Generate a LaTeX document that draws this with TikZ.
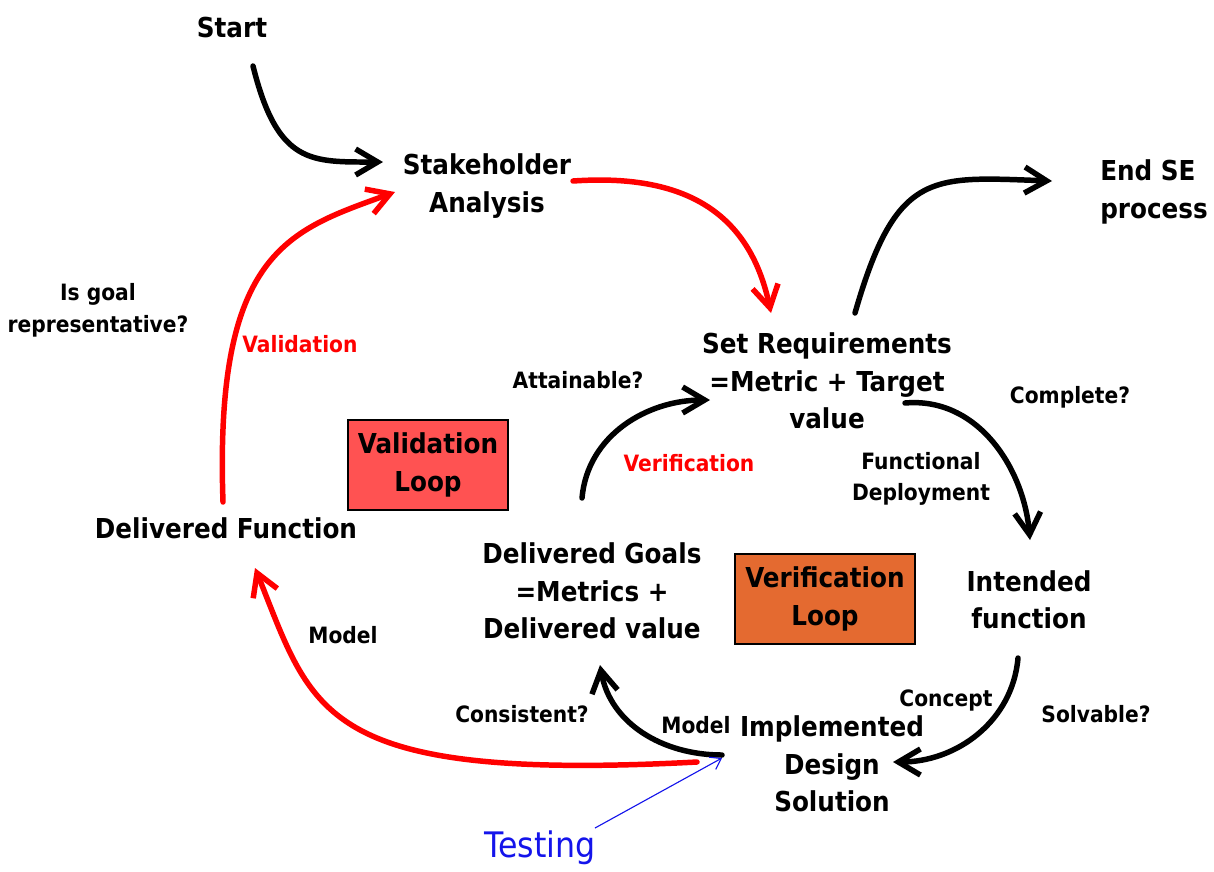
\documentclass[tikz,border=0pt]{standalone}
\usepackage{fontspec}
\setmainfont{DejaVu Sans Condensed}
\usetikzlibrary{arrows.meta,calc}

\definecolor{vred}{RGB}{255,0,0}
\definecolor{valfill}{RGB}{255,82,82}
\definecolor{verfill}{RGB}{228,106,48}
\definecolor{tblue}{RGB}{20,20,235}

\tikzset{
  bigtxt/.style={font=\fontsize{19.5}{26.5}\selectfont\bfseries,align=center,inner sep=0pt},
  qtxt/.style={font=\fontsize{16}{22.5}\selectfont\bfseries,align=center,inner sep=0pt},
  redtxt/.style={qtxt,text=vred},
  loopbox/.style={draw=black,line width=1.2pt,font=\fontsize{19.5}{26.5}\selectfont\bfseries,
    align=center,minimum height=2.25cm},
  blackarr/.style={draw=black,line width=3.9pt,line cap=round,
    -{Straight Barb[length=5.5mm,width=6.5mm]}},
  redarr/.style={blackarr,draw=vred},
  testarr/.style={draw=tblue,line width=0.8pt,-{Straight Barb[length=2.5mm,width=3.5mm]}}
}

\begin{document}
\begin{tikzpicture}[x=0.025cm,y=-0.025cm]
  \useasboundingbox (0,0) rectangle (1214,871);

  % main steps
  \node[bigtxt] (start) at (232,28) {Start};
  \node[bigtxt] (stake) at (487,186) {Stakeholder\\Analysis};
  \node[bigtxt,align=left] (endse) at (1154,192) {End SE\\process};
  \node[bigtxt] (req) at (827,381) {Set Requirements\\=Metric + Target\\value};
  \node[bigtxt] (intend) at (1029,600) {Intended\\function};
  \node[bigtxt] (impl) at (832,764) {Implemented\\Design\\Solution};
  \node[bigtxt] (goals) at (592,591) {Delivered Goals\\=Metrics +\\Delivered value};
  \node[bigtxt] (deliv) at (226,528) {Delivered Function};

  % loops
  \node[loopbox,fill=valfill,minimum width=4cm] (valloop) at (428,465) {Validation\\Loop};
  \node[loopbox,fill=verfill,minimum width=4.5cm] (verloop) at (825,599) {Verification\\Loop};

  % questions and labels
  \node[qtxt] (goalq) at (98,310) {Is goal\\representative?};
  \node[redtxt] (vallbl) at (300,344) {Validation};
  \node[redtxt] (verlbl) at (689,463) {Verification};
  \node[qtxt] (attq) at (578,380) {Attainable?};
  \node[qtxt] (compq) at (1070,397) {Complete?};
  \node[qtxt] (fdlbl) at (921,479) {Functional\\Deployment};
  \node[qtxt] (conclbl) at (946,700) {Concept};
  \node[qtxt] (solvq) at (1096,714) {Solvable?};
  \node[qtxt] (consq) at (522,714) {Consistent?};
  \node[qtxt] (modelr) at (696,725) {Model};
  \node[qtxt] (modell) at (343,635) {Model};
  \node[font=\fontsize{25}{30}\selectfont,text=tblue,inner sep=0pt] (testing) at (540,848) {Testing};

  % connectors
  \draw[blackarr] ($(start)+(21,38)$) to[out=-76,in=180,out distance=2.55cm,in distance=1.8cm] ($(stake)+(-104,-24)$);
  \draw[redarr] ($(stake)+(86,-5)$) to[out=4,in=102,out distance=3cm,in distance=2.4cm] ($(req)+(-56,-68)$);
  \draw[blackarr] ($(req)+(28,-68)$) to[out=74,in=178,out distance=3.75cm,in distance=3cm] ($(endse)+(-102,-11)$);
  \draw[blackarr] ($(req)+(78,22)$) to[out=5,in=95] ($(intend)+(1,-60)$);
  \draw[blackarr] ($(intend)+(-11,58)$) to[out=-95,in=0] ($(impl)+(61,-2)$);
  \draw[redarr] ($(impl)+(-135,-2)$) to[out=183,in=-68,out distance=9.5cm,in distance=3.9cm] ($(deliv)+(29,40)$);
  \draw[blackarr] ($(impl)+(-110,-9)$) to[out=180,in=-80] ($(goals)+(8,74)$);
  \draw[blackarr] ($(goals)+(-10,-93)$) to[out=85,in=180] ($(req)+(-117,19)$);
  \draw[redarr] ($(deliv)+(-3,-26)$) to[out=92,in=200,out distance=6.3cm,in distance=2.8cm] ($(stake)+(-92,6)$);
  \draw[testarr] ($(testing)+(55,-20)$) -- ($(impl)+(-110,-6)$);
\end{tikzpicture}
\end{document}
